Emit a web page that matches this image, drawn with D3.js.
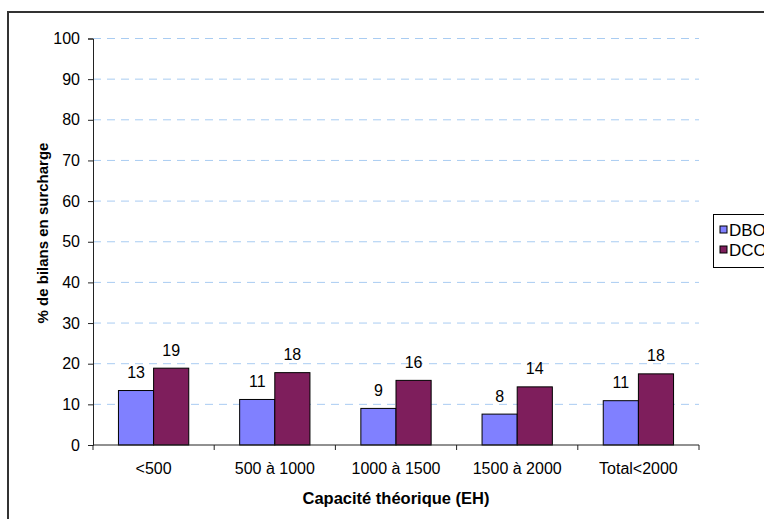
<!DOCTYPE html>
<html>
<head>
<meta charset="utf-8">
<script src="https://cdn.jsdelivr.net/npm/d3@7"></script>
<style>
  html, body { margin: 0; padding: 0; background: #fff; }
  svg { display: block; font-family: "Liberation Sans", Arial, sans-serif; }
</style>
</head>
<body>
<svg id="chart" width="764" height="519"></svg>
<script>
// Share of load assessments in overload, by theoretical capacity class
const categories = ["<500", "500 à 1000", "1000 à 1500", "1500 à 2000", "Total<2000"];
const seriesNames = ["DBO", "DCO"];
const dboValues = [13.4, 11.2, 9.0, 7.6, 10.9];
const dcoValues = [18.9, 17.8, 15.9, 14.3, 17.5];
const yTicks = [0, 10, 20, 30, 40, 50, 60, 70, 80, 90, 100];
const colors = { DBO: "#8080ff", DCO: "#7e1e5c" };

const svg = d3.select("#chart");
const W = 764, H = 519;

// Outer frame (runs off the right and bottom edges)
svg.append("path")
  .attr("d", `M8,${H + 5} L8,12 L${W + 5},12`)
  .attr("fill", "none").attr("stroke", "#333").attr("stroke-width", 2);

const plot = { left: 93, right: 699, top: 38.5, bottom: 445 };

const y = d3.scaleLinear().domain([0, 100]).range([plot.bottom, plot.top]);
const x0 = d3.scaleBand().domain(categories).range([plot.left, plot.right]).padding(0);
const x1 = d3.scaleBand().domain(seriesNames)
  .range([x0.bandwidth() * 0.21, x0.bandwidth() * 0.79]).padding(0);

const rows = categories.map((c, i) => ({ cat: c, DBO: dboValues[i], DCO: dcoValues[i] }));

// Dashed gridlines
svg.append("g").selectAll("line")
  .data(yTicks.filter(t => t > 0))
  .join("line")
  .attr("x1", plot.left).attr("x2", plot.right)
  .attr("y1", d => y(d)).attr("y2", d => y(d))
  .attr("stroke", "#a9ccf2").attr("stroke-width", 1)
  .attr("stroke-dasharray", "8,6");

// Y axis
const yAxis = svg.append("g")
  .attr("transform", `translate(${plot.left},0)`)
  .call(d3.axisLeft(y).tickValues(yTicks).tickSize(5).tickPadding(8).tickFormat(d3.format("d")));
yAxis.select(".domain").attr("stroke", "#222");
yAxis.selectAll(".tick line").attr("stroke", "#222");
yAxis.selectAll("text").attr("font-size", 16).attr("fill", "#000")
  .attr("font-family", "'Liberation Sans', Arial, sans-serif");

// Bars
const groups = svg.append("g").selectAll("g")
  .data(rows).join("g")
  .attr("transform", d => `translate(${x0(d.cat)},0)`);

groups.selectAll("rect")
  .data(d => seriesNames.map(s => ({ s, v: d[s] })))
  .join("rect")
  .attr("x", d => x1(d.s))
  .attr("y", d => y(d.v))
  .attr("width", x1.bandwidth())
  .attr("height", d => y(0) - y(d.v))
  .attr("fill", d => colors[d.s])
  .attr("stroke", "#000").attr("stroke-width", 1);

groups.selectAll("text")
  .data(d => seriesNames.map(s => ({ s, v: d[s] })))
  .join("text")
  .attr("x", d => x1(d.s) + x1.bandwidth() / 2)
  .attr("y", d => y(d.v) - 12.5)
  .attr("text-anchor", "middle")
  .attr("font-size", 16)
  .text(d => d3.format(".0f")(d.v));

// X axis with ticks at category boundaries
const xAxis = svg.append("g").attr("transform", `translate(0,${plot.bottom})`);
xAxis.append("line").attr("x1", plot.left).attr("x2", plot.right)
  .attr("stroke", "#222");
const bounds = categories.map(c => x0(c)).concat([plot.right]);
xAxis.selectAll("line.tk").data(bounds).join("line").attr("class", "tk")
  .attr("x1", d => d).attr("x2", d => d).attr("y1", 0).attr("y2", 5)
  .attr("stroke", "#222");
xAxis.selectAll("text").data(categories).join("text")
  .attr("x", d => x0(d) + x0.bandwidth() / 2)
  .attr("y", 29)
  .attr("text-anchor", "middle")
  .attr("font-size", 16)
  .text(d => d);

// Axis titles
svg.append("text")
  .attr("x", (plot.left + plot.right) / 2).attr("y", 504)
  .attr("text-anchor", "middle")
  .attr("font-size", 16.5).attr("font-weight", "bold")
  .text("Capacité théorique (EH)");

svg.append("text")
  .attr("transform", `translate(48,233) rotate(-90)`)
  .attr("text-anchor", "middle")
  .attr("font-size", 15).attr("font-weight", "bold")
  .text("% de bilans en surcharge");

// Legend (box continues past the right edge)
const legend = svg.append("g").attr("transform", "translate(713.5,214.5)");
legend.append("rect").attr("width", 90).attr("height", 53)
  .attr("fill", "#fff").attr("stroke", "#000").attr("stroke-width", 1);
seriesNames.forEach((s, i) => {
  legend.append("rect")
    .attr("x", 6.5).attr("y", 11.5 + i * 20)
    .attr("width", 7).attr("height", 7)
    .attr("fill", colors[s]).attr("stroke", "#000").attr("stroke-width", 1);
  legend.append("text")
    .attr("x", 15.5).attr("y", 21 + i * 20)
    .attr("font-size", 17)
    .text(s);
});
</script>
</body>
</html>
